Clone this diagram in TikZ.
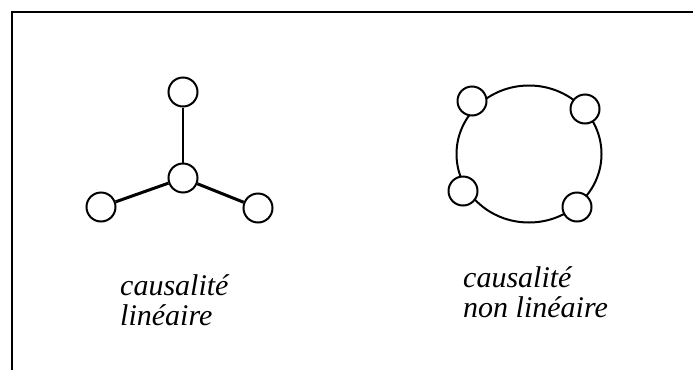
\documentclass[tikz,border=0pt]{standalone}
\usepackage{fontspec}
\setmainfont{Liberation Serif}
\usetikzlibrary{shapes.geometric}
\begin{document}
\begin{tikzpicture}[x=1pt,y=-1pt,
  dot/.style={circle,draw,line width=2pt,fill=white,minimum size=29pt,inner sep=0pt},
  thin/.style={line width=2pt},
  thick2/.style={line width=3pt},
  frame/.style={line width=2pt},
  lbl/.style={inner sep=0pt,anchor=base west,align=left,font={\itshape\fontsize{30}{30}\selectfont}}]
\useasboundingbox (0,0) rectangle (693,370);
% frame
\coordinate (fa) at (12,370);
\coordinate (fb) at (12,12);
\coordinate (fc) at (693,12);
\draw[frame] (fa) -- (fb) -- (fc);
% linear causality
\node[dot] (t) at (183,92) {};
\node[dot] (c) at (183,178) {};
\node[dot] (l) at (101,207) {};
\node[dot] (r) at (258,208) {};
\draw[thin] (t) -- (c);
\draw[thick2] (c) -- (l);
\draw[thick2] (c) -- (r);
% non-linear causality
\node[ellipse,draw,line width=2pt,minimum width=145pt,minimum height=137pt,inner sep=0pt] (ring) at (529,154) {};
\node[dot] (a) at (472,101) {};
\node[dot] (b) at (585,109) {};
\node[dot] (d) at (463,191) {};
\node[dot] (e) at (577,207) {};
% labels
\node[lbl] (L1) at (120,325) {causalité\\linéaire};
\node[lbl] (L2) at (463,317) {causalité\\non linéaire};
\end{tikzpicture}
\end{document}
